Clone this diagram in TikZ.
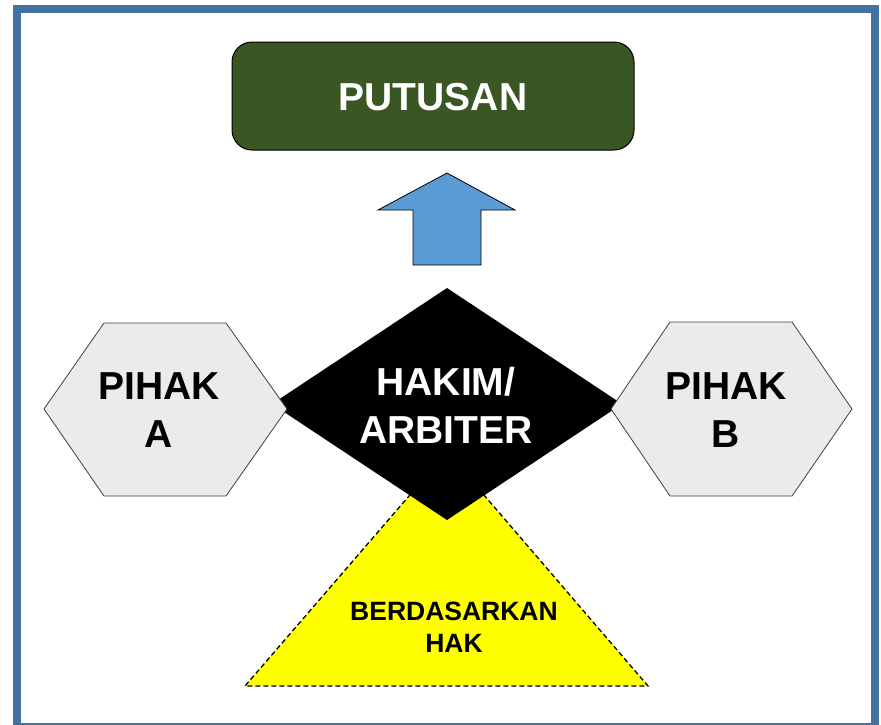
\documentclass[tikz,border=0pt]{standalone}
\usepackage{fontspec}
\setmainfont{Liberation Sans}
\usetikzlibrary{positioning}

\definecolor{frameblue}{RGB}{68,114,158}
\definecolor{boxgreen}{RGB}{58,86,35}
\definecolor{arrowblue}{RGB}{91,155,213}
\definecolor{hexgray}{RGB}{235,235,235}
\definecolor{baseyellow}{RGB}{255,255,0}

\begin{document}
\begin{tikzpicture}[x=1pt,y=-1pt,line join=miter,
  big text/.style={font=\bfseries\fontsize{39}{48}\selectfont,align=center},
  small text/.style={font=\bfseries\fontsize{26.5}{32}\selectfont,align=center},
  hex shape/.style={fill=hexgray,draw=black!75,line width=0.8pt}]

  \useasboundingbox (0,0) rectangle (881,724);
  \draw[line width=8pt,draw=frameblue] (17,9) rectangle (875,727);

  % decision box and arrow
  \draw[fill=boxgreen,rounded corners=20pt,line width=1pt] (232,42) rectangle (634,150);
  \node[big text,text=white] (putusan) at (433,97) {PUTUSAN};
  \draw[fill=arrowblue,line width=0.8pt] (447,173) -- (515,210) -- (481,210) -- (481,265)
    -- (413,265) -- (413,210) -- (378,210) -- cycle;

  % base triangle and judge
  \draw[fill=baseyellow,line width=1.3pt,dash pattern=on 5pt off 3pt] (447,452) -- (648,686) -- (245,686) -- cycle;
  \fill[black] (447,288) -- (622,404) -- (447,520) -- (272,404) -- cycle;

  % parties
  \draw[hex shape] (104,323) -- (226,323) -- (287,409) -- (226,496) -- (104,496) -- (44,409) -- cycle;
  \draw[hex shape] (670,322) -- (792,322) -- (852,409) -- (792,496) -- (670,496) -- (611,409) -- cycle;

  \node[big text] (pihakA) at (159,410) {PIHAK\\A};
  \node[big text] (pihakB) at (726,410) {PIHAK\\B};
  \node[big text,text=white] (hakim) at (446,405) {HAKIM/\\ARBITER};
  \node[small text] (dasar) at (454,627) {BERDASARKAN\\HAK};
\end{tikzpicture}
\end{document}
